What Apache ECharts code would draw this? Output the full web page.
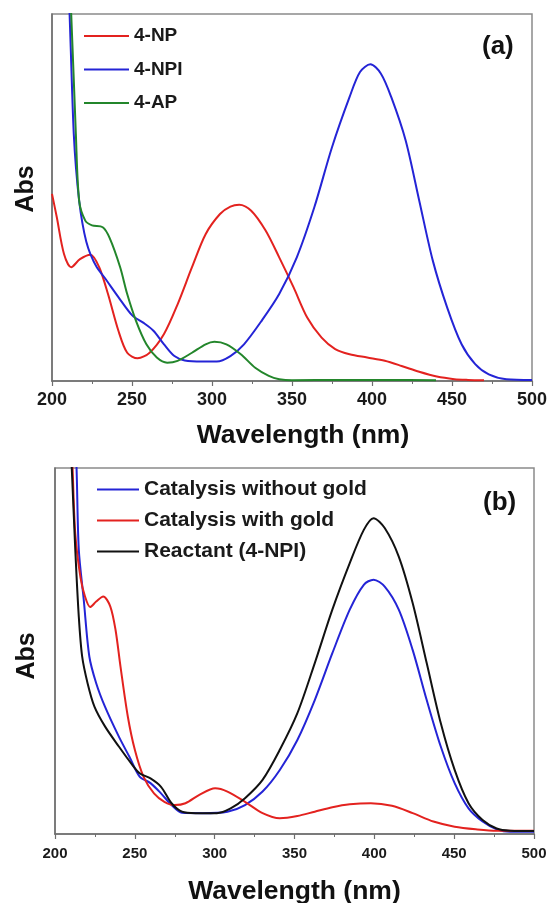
<!DOCTYPE html>
<html>
<head>
<meta charset="utf-8">
<script src="https://cdn.jsdelivr.net/npm/echarts@6/dist/echarts.min.js"></script>
<style>
html,body{margin:0;padding:0;background:#fff;}
#chart{width:549px;height:903px;}
</style>
</head>
<body>
<div id="chart"></div>
<script>
// ---------- Panel (a) ----------
const npWl  = [200, 203, 207.5, 212, 217.5, 224, 229.5, 235, 241.5, 247, 253.5, 261, 270, 278.5, 287.5, 296, 305, 311.5, 317, 324.5, 333.5, 342, 351, 359.5, 368.5, 377, 386, 397, 408, 418.5, 429.5, 440.5, 451.5, 460, 470];
const npAbs = [0.51, 0.446, 0.346, 0.31, 0.332, 0.344, 0.31, 0.237, 0.137, 0.077, 0.062, 0.077, 0.128, 0.209, 0.31, 0.40, 0.455, 0.475, 0.48, 0.464, 0.41, 0.337, 0.255, 0.173, 0.118, 0.087, 0.073, 0.064, 0.055, 0.041, 0.025, 0.012, 0.005, 0.003, 0.002];

const npiWl  = [209.5, 211, 212.5, 213.6, 215, 217, 219, 221.4, 224, 228, 232.8, 241.6, 250.3, 257, 263.4, 270, 276.5, 283, 294, 303, 311.5, 320, 331, 342, 353, 364, 375, 386, 392.5, 399, 405.5, 412, 421, 429.5, 438, 447, 456, 464.5, 473, 484, 500];
const npiAbs = [1.15, 1.0, 0.8, 0.674, 0.58, 0.49, 0.43, 0.38, 0.346, 0.31, 0.282, 0.228, 0.178, 0.159, 0.137, 0.10, 0.068, 0.056, 0.053, 0.053, 0.068, 0.10, 0.164, 0.237, 0.337, 0.474, 0.637, 0.774, 0.842, 0.863, 0.838, 0.774, 0.656, 0.492, 0.328, 0.20, 0.10, 0.046, 0.018, 0.005, 0.003];

const apWl  = [210, 212, 214.9, 217, 220.8, 225, 231.7, 236, 242.6, 247, 252.5, 259, 265.5, 272, 278.5, 287.5, 296, 301.5, 309, 318, 327, 335.5, 342, 350, 380, 410, 440];
const apAbs = [1.15, 1.0, 0.674, 0.49, 0.437, 0.424, 0.419, 0.39, 0.31, 0.237, 0.164, 0.10, 0.064, 0.050, 0.055, 0.077, 0.10, 0.107, 0.10, 0.073, 0.036, 0.014, 0.005, 0.002, 0.003, 0.003, 0.002];

// ---------- Panel (b) ----------
const woWl  = [212, 213.5, 214.9, 218, 221.5, 225.8, 231.3, 240, 246.6, 253, 259.8, 266.4, 273, 279.5, 292.6, 308, 319, 330, 340.8, 351.8, 362.7, 373.7, 384.6, 393.4, 399.5, 406.5, 415.3, 424, 432.8, 441.6, 450.3, 459, 467.8, 476.6, 485, 500];
const woAbs = [1.15, 1.0, 0.777, 0.64, 0.485, 0.412, 0.348, 0.266, 0.211, 0.157, 0.139, 0.111, 0.079, 0.058, 0.057, 0.061, 0.079, 0.116, 0.175, 0.257, 0.366, 0.494, 0.613, 0.681, 0.695, 0.676, 0.613, 0.503, 0.366, 0.239, 0.139, 0.070, 0.034, 0.013, 0.006, 0.006];

const wgWl  = [209.5, 211, 212.7, 216, 218.8, 222, 225.8, 230.2, 234.6, 237.9, 241, 245.6, 250, 255.4, 262, 268.5, 275, 281.7, 290.4, 300.3, 308, 319, 330, 340.8, 351.8, 362.7, 373.7, 384.6, 397.8, 411, 424, 437, 450.3, 463.5, 476.6, 500];
const wgAbs = [1.15, 1.0, 0.82, 0.70, 0.649, 0.62, 0.635, 0.649, 0.622, 0.558, 0.458, 0.321, 0.23, 0.157, 0.111, 0.088, 0.079, 0.084, 0.107, 0.125, 0.116, 0.088, 0.057, 0.043, 0.049, 0.061, 0.073, 0.081, 0.084, 0.077, 0.057, 0.034, 0.020, 0.013, 0.009, 0.009];

const reWl  = [209, 210.5, 212.7, 214.9, 217, 220.4, 224.7, 231.3, 240, 247.7, 253, 259.8, 266.4, 273, 279.5, 288, 301.4, 310, 319, 330, 340.8, 351.8, 362.7, 373.7, 384.6, 393.4, 399.5, 406.5, 415.3, 424, 432.8, 441.6, 450.3, 459, 467.8, 476.6, 485, 500];
const reAbs = [1.15, 1.0, 0.777, 0.594, 0.485, 0.412, 0.348, 0.294, 0.239, 0.193, 0.166, 0.152, 0.129, 0.084, 0.061, 0.057, 0.057, 0.070, 0.098, 0.148, 0.23, 0.33, 0.467, 0.613, 0.74, 0.831, 0.863, 0.836, 0.758, 0.631, 0.467, 0.303, 0.175, 0.084, 0.038, 0.015, 0.009, 0.008];

const xTicks = { min: 200, max: 500, interval: 50 };

const FONT = 'Liberation Sans, Arial, Helvetica, sans-serif';
const RED = '#e3221f', BLUE = '#2424d6', GREEN = '#23862b', BLACK = '#111111';

function pairs(xs, ys) { return xs.map((x, i) => [x, ys[i]]); }

function xAxisCfg(gridIndex, labelSize, labelMargin, nameGap, namePad) {
  return {
    gridIndex, type: 'value', min: xTicks.min, max: xTicks.max, interval: xTicks.interval,
    name: 'Wavelength (nm)', nameLocation: 'middle', nameGap,
    nameTextStyle: { fontFamily: FONT, fontWeight: 'bold', fontSize: 26.5, color: '#111', padding: namePad },
    axisLine: { show: true, onZero: false, lineStyle: { color: '#6e6e6e', width: 1.5 } },
    axisTick: { show: true, inside: false, length: 5, lineStyle: { color: '#6e6e6e', width: 1.2 } },
    minorTick: { show: true, splitNumber: 2, length: 3, lineStyle: { color: '#6e6e6e', width: 1 } },
    axisLabel: { fontFamily: FONT, fontWeight: 'bold', fontSize: labelSize, color: '#1a1a1a', margin: labelMargin },
    splitLine: { show: false }, minorSplitLine: { show: false }
  };
}
function yAxisCfg(gridIndex, gap, pad) {
  return {
    gridIndex, type: 'value', min: 0, max: 1,
    name: 'Abs', nameLocation: 'middle', nameGap: gap,
    nameTextStyle: { fontFamily: FONT, fontWeight: 'bold', fontSize: 25, color: '#111', padding: pad },
    axisLine: { show: true, lineStyle: { color: '#6e6e6e', width: 1.5 } },
    axisTick: { show: false }, axisLabel: { show: false }, splitLine: { show: false }
  };
}
function lineSeries(name, color, xi, yi, xs, ys) {
  return {
    name, type: 'line', xAxisIndex: xi, yAxisIndex: yi, data: pairs(xs, ys),
    symbol: 'none', smooth: 0.3, clip: true,
    lineStyle: { color, width: 2 }, itemStyle: { color }
  };
}

const option = {
  animation: false,
  backgroundColor: '#ffffff',
  grid: [
    { left: 52, top: 14, width: 480, height: 367, containLabel: false, outerBoundsMode: 'none', show: true, borderColor: '#8a8a8a', borderWidth: 1.5, backgroundColor: 'transparent' },
    { left: 55, top: 468, width: 479, height: 366, containLabel: false, outerBoundsMode: 'none', show: true, borderColor: '#8a8a8a', borderWidth: 1.5, backgroundColor: 'transparent' }
  ],
  xAxis: [
    xAxisCfg(0, 18, 10.5, 41, [0, 0, 0, 22]),
    xAxisCfg(1, 15, 12, 44, [0, 0, 0, 0])
  ],
  yAxis: [
    yAxisCfg(0, 13, [0, 0, 0, 17]),
    yAxisCfg(1, 15, [0, 10, 0, 0])
  ],
  legend: [
    {
      data: ['4-NP', '4-NPI', '4-AP'], orient: 'vertical', left: 84, top: 26, padding: 0,
      icon: 'rect', itemWidth: 45, itemHeight: 2, itemGap: 13.5,
      textStyle: { fontFamily: FONT, fontWeight: 'bold', fontSize: 19, color: '#1a1a1a', lineHeight: 20 }
    },
    {
      data: ['Catalysis without gold', 'Catalysis with gold', 'Reactant (4-NPI)'], orient: 'vertical', left: 97, top: 479, padding: 0,
      icon: 'rect', itemWidth: 42, itemHeight: 2, itemGap: 10,
      textStyle: { fontFamily: FONT, fontWeight: 'bold', fontSize: 21, color: '#1a1a1a', lineHeight: 20 }
    }
  ],
  graphic: [
    { type: 'text', left: 482, top: 34, style: { text: '(a)', font: 'bold 26px ' + FONT, fill: '#111' } },
    { type: 'text', left: 483, top: 490, style: { text: '(b)', font: 'bold 26px ' + FONT, fill: '#111' } }
  ],
  series: [
    lineSeries('4-NP', RED, 0, 0, npWl, npAbs),
    lineSeries('4-NPI', BLUE, 0, 0, npiWl, npiAbs),
    lineSeries('4-AP', GREEN, 0, 0, apWl, apAbs),
    lineSeries('Catalysis without gold', BLUE, 1, 1, woWl, woAbs),
    lineSeries('Catalysis with gold', RED, 1, 1, wgWl, wgAbs),
    lineSeries('Reactant (4-NPI)', BLACK, 1, 1, reWl, reAbs)
  ]
};

const chart = echarts.init(document.getElementById('chart'), null, { renderer: 'canvas' });
chart.setOption(option);
</script>
</body>
</html>
